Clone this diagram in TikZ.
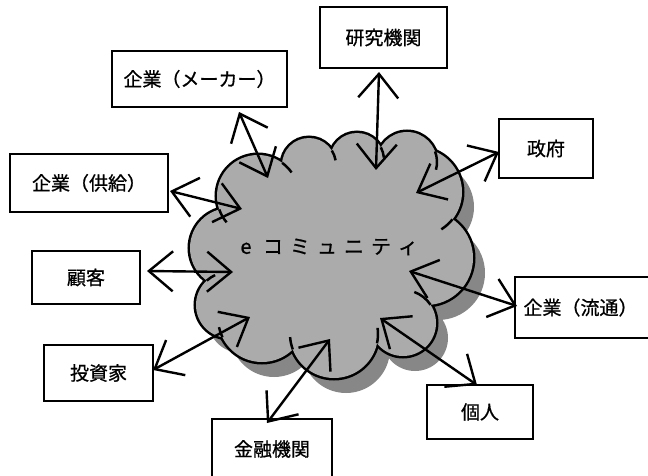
\documentclass[tikz,border=0pt]{standalone}
\usepackage{fontspec}
\setmainfont{Noto Sans CJK JP}
\newfontfamily\jpfont{Noto Sans CJK JP}[FakeBold=0.8]
\usetikzlibrary{arrows.meta}
\definecolor{cloudgray}{gray}{0.67}
\definecolor{shadowgray}{gray}{0.53}
\begin{document}
\begin{tikzpicture}[x=1pt,y=-1pt,
  box/.style={draw=black, line width=2.5pt, fill=white, rectangle, inner sep=0pt,
    font=\jpfont\fontsize{19}{19}\selectfont},
  link/.style={line width=2.4pt,
    {Straight Barb[length=24pt,width=40pt]}-{Straight Barb[length=24pt,width=40pt]}},
  innerarc/.style={line width=2.5pt}]
\useasboundingbox (0,0) rectangle (648,476);
\def\lobelist{258/196/41, 309/165/27, 357/160/27, 407/162/30, 418/192/44, 426/258/47, 403/323/33, 334/334/44, 262/318/44, 229/305/33, 230/248/40}
% shadow
\begin{scope}[shift={(12,15)}]
  \foreach \cx/\cy/\r in \lobelist { \fill[shadowgray] (\cx,\cy) circle[radius=\r]; }
  \fill[shadowgray] (258,196) -- (309,165) -- (357,160) -- (407,162) -- (418,192) -- (426,258) -- (403,323) -- (334,334) -- (262,318) -- (229,305) -- (230,248) -- cycle;
\end{scope}
% main cloud
\foreach \cx/\cy/\r in \lobelist { \draw[line width=5pt] (\cx,\cy) circle[radius=\r]; }
\foreach \cx/\cy/\r in \lobelist { \fill[cloudgray] (\cx,\cy) circle[radius=\r]; }
\fill[cloudgray] (258,196) -- (309,165) -- (357,160) -- (407,162) -- (418,192) -- (426,258) -- (403,323) -- (334,334) -- (262,318) -- (229,305) -- (230,248) -- cycle;
% inner arcs
\foreach \cx/\cy/\r/\a/\b in {258/196/41/160.8/140, 258/196/41/-54/-35, 309/165/27/-32.5/-10, 357/160/27/-28/-5, 407/162/30/-20.6/15, 418/192/44/38.4/58, 403/323/33/-33.5/-70, 334/334/44/12.2/-8, 334/334/44/159.5/176, 262/318/44/153.9/168, 229/305/33/227.7/245}
  { \draw[innerarc] (\cx,\cy) ++(\a:\r) arc[start angle=\a, end angle=\b, radius=\r]; }
% cloud text
\node[inner sep=0pt] (ecomm) at (327,247) {\jpfont\fontsize{20}{20}\selectfont\makebox[27pt]{e}\makebox[27pt]{コ}\makebox[27pt]{ミ}\makebox[27pt]{ュ}\makebox[27pt]{ニ}\makebox[27pt]{テ}\makebox[27pt]{ィ}};
% boxes
\node[box, minimum width=175pt, minimum height=56pt] (maker) at (199.5,79) {企業（メーカー）};
\node[box, minimum width=127pt, minimum height=61pt] (kenkyu) at (383.5,37.5) {研究機関};
\node[box, minimum width=94pt, minimum height=59pt] (seifu) at (546,148.5) {政府};
\node[box, minimum width=158pt, minimum height=58pt] (kyokyu) at (89,183) {企業（供給）};
\node[box, minimum width=108pt, minimum height=53pt] (kokyaku) at (86,277.5) {顧客};
\node[box, minimum width=109pt, minimum height=56pt] (toushika) at (98.5,373) {投資家};
\node[box, minimum width=120pt, minimum height=60pt] (kinyu) at (272,449) {金融機関};
\node[box, minimum width=106pt, minimum height=54pt] (kojin) at (480,412) {個人};
\node[box, minimum width=137pt, minimum height=61pt] (ryutsu) at (583.5,307.5) {\hspace*{-6pt}企業（流通）};
% arrow end points
\coordinate (mkB) at (239,112); \coordinate (mkC) at (268,178);
\coordinate (kyB) at (170,191); \coordinate (kyC) at (242,209);
\coordinate (keB) at (379,72);  \coordinate (keC) at (376,170);
\coordinate (seB) at (499,152); \coordinate (seC) at (416,193);
\coordinate (koB) at (147,271); \coordinate (koC) at (233,272);
\coordinate (toB) at (153,370); \coordinate (toC) at (250,317);
\coordinate (kiB) at (267,423); \coordinate (kiC) at (330,339);
\coordinate (kjB) at (477,385); \coordinate (kjC) at (380,318);
\coordinate (ryB) at (517,306); \coordinate (ryC) at (409,271);
\draw[link] (mkB) -- (mkC);
\draw[link] (kyB) -- (kyC);
\draw[link] (keB) -- (keC);
\draw[link] (seB) -- (seC);
\draw[link] (koB) -- (koC);
\draw[link] (toB) -- (toC);
\draw[link] (kiB) -- (kiC);
\draw[link] (kjB) -- (kjC);
\draw[link] (ryB) -- (ryC);
\end{tikzpicture}
\end{document}
